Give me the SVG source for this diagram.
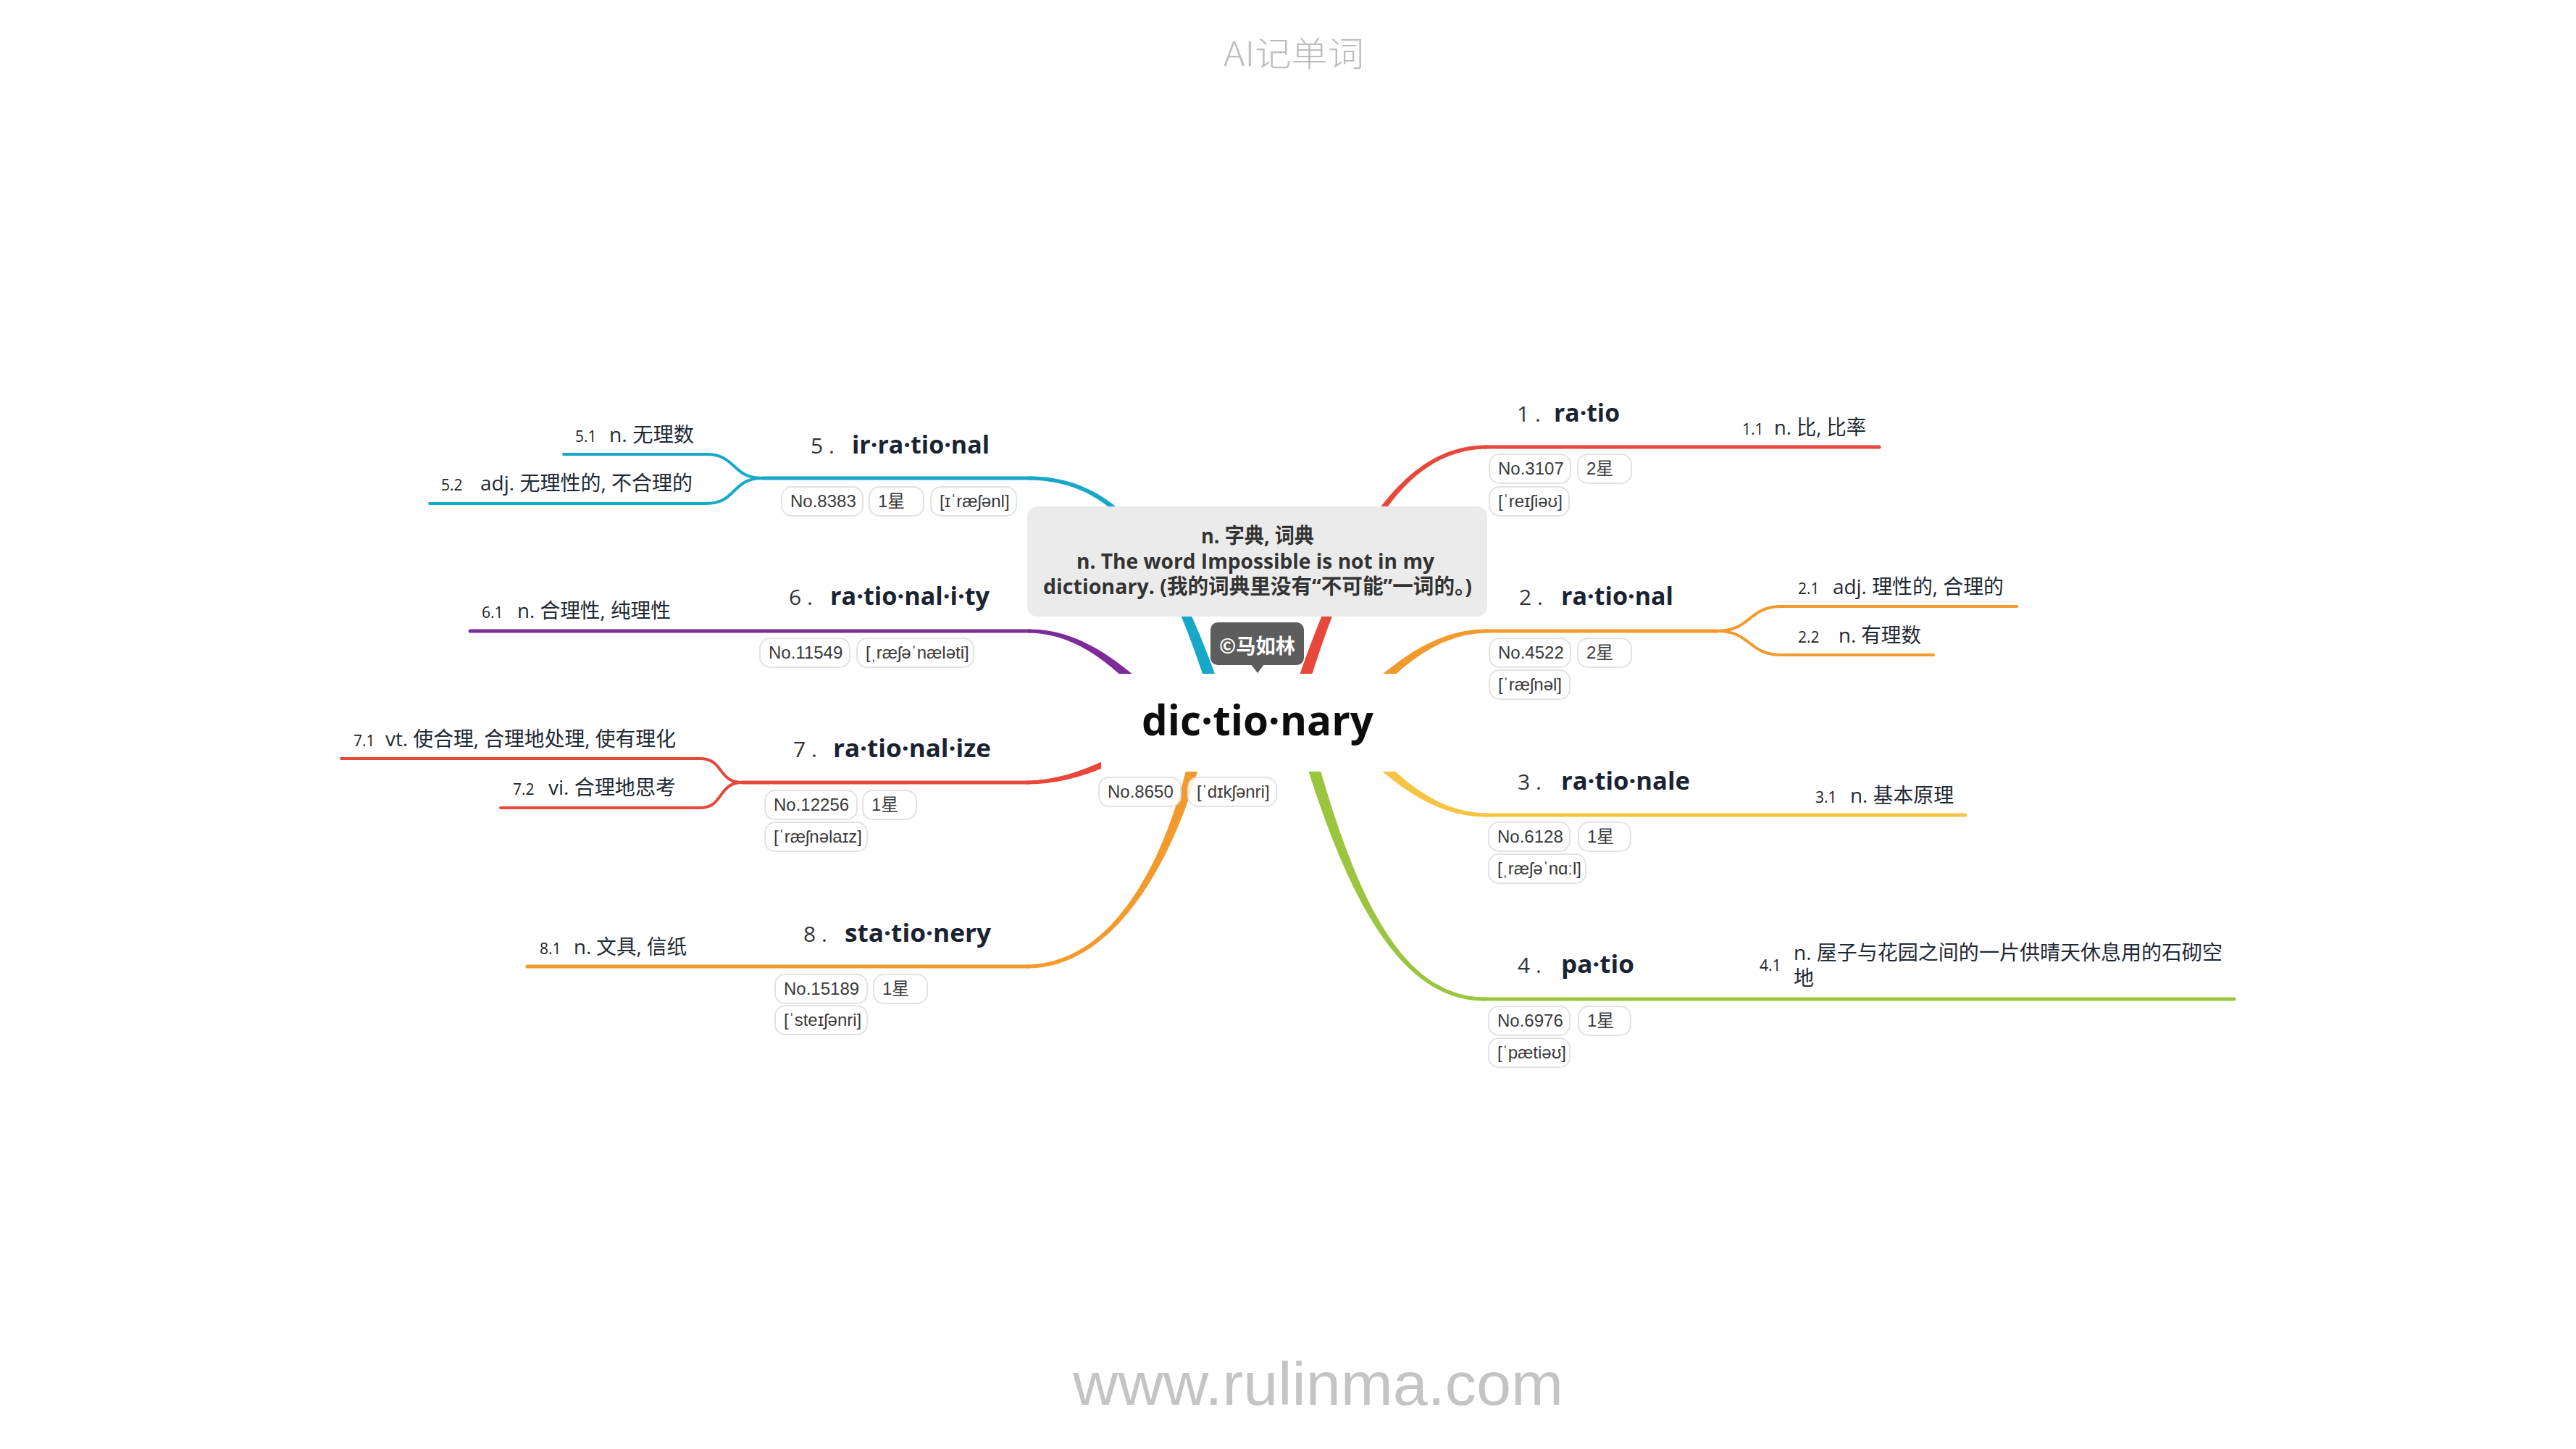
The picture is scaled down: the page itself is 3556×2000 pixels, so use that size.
<svg xmlns="http://www.w3.org/2000/svg" width="3556" height="2000" viewBox="0 0 3556 2000">
<style>
.t{font-family:"Open Sans","Noto Sans CJK SC",sans-serif;font-weight:700;font-size:34px;fill:#1a2332}
.n{font-family:"Open Sans",sans-serif;font-size:30px;fill:#333}
.s{font-family:"Open Sans","Noto Sans CJK SC",sans-serif;font-size:28px;fill:#1f2933}
.sn{font-family:"Open Sans",sans-serif;font-size:21px;fill:#222}
.pill{fill:#fff;fill-opacity:.85;stroke:#e2e2e2;stroke-width:2}
.pt{font-family:"Liberation Sans","Noto Sans CJK SC",sans-serif;font-size:24px;fill:#3a3a3a}
.line{fill:none;stroke-width:5;stroke-linecap:round}
.sub{fill:none;stroke-width:4;stroke-linecap:round}
.red{stroke:#e8473b}.redf{fill:#e8473b}
.org{stroke:#f39a2d}.orgf{fill:#f39a2d}
.yel{stroke:#f6c445}.yelf{fill:#f6c445}
.grn{stroke:#9cc53f}.grnf{fill:#9cc53f}
.cyn{stroke:#17a8c9}.cynf{fill:#17a8c9}
.pur{stroke:#7c2c99}.purf{fill:#7c2c99}
</style>
<rect width="3556" height="2000" fill="#fff"/>
<text x="1689" y="91" font-family="'Noto Sans CJK SC',sans-serif" font-weight="300" font-size="47" fill="#bdbdbd" textLength="194" lengthAdjust="spacingAndGlyphs">AI记单词</text>
<text x="1481" y="1939" font-family="'Liberation Sans',sans-serif" font-size="84" fill="#c4c4c4" textLength="677" lengthAdjust="spacingAndGlyphs">www.rulinma.com</text>

<g id="connectors">
  <!-- branch 1 -->
  <path class="redf" d="M1789.6,1002.6 C1861.7,751.7 1933,620.5 2053,619.5 L2053,614.5 C1933,613.5 1850.3,748.3 1772.4,997.4 Z"/>
  <path class="line red" d="M2050,617 H2594"/>
  <!-- branch 2 -->
  <path class="orgf" d="M1856.8,1005.9 C1924.5,923.9 1980,874.5 2053,873.5 L2053,868.5 C1980,867.5 1915.5,916.1 1843.2,994.1 Z"/>
  <path class="line org" d="M2050,871 H2370"/>
  <path class="sub org" d="M2370,871 C2418,871 2412,837 2460,837 H2784"/>
  <path class="sub org" d="M2370,871 C2418,871 2412,904 2460,904 H2669"/>
  <!-- branch 3 -->
  <path class="yelf" d="M1843.2,1001.9 C1915.5,1079.9 1980,1128.5 2053,1127.5 L2053,1122.5 C1980,1121.5 1924.5,1072.1 1856.8,990.1 Z"/>
  <path class="line yel" d="M2050,1125 H2713"/>
  <!-- branch 4 -->
  <path class="grnf" d="M1786.3,998.4 C1856.2,1241.6 1933,1382.5 2050,1381.5 L2050,1376.5 C1933,1375.5 1867.8,1238.4 1803.7,993.6 Z"/>
  <path class="line grn" d="M2047,1379 H3084"/>
  <!-- branch 5 -->
  <path class="cynf" d="M1699.6,997.4 C1621.7,748.3 1539,656.5 1419,657.5 L1419,662.5 C1539,663.5 1610.3,751.7 1682.4,1002.6 Z"/>
  <path class="line cyn" d="M1422,660 H1052"/>
  <path class="sub cyn" d="M1052,660 C1010,660 1017,627 975,627 H778"/>
  <path class="sub cyn" d="M1052,660 C1010,660 1017,695 975,695 H593"/>
  <!-- branch 6 -->
  <path class="purf" d="M1628.8,994.1 C1556.5,916.1 1492,867.5 1419,868.5 L1419,873.5 C1492,874.5 1547.5,923.9 1615.2,1005.9 Z"/>
  <path class="line pur" d="M1422,871 H649"/>
  <!-- branch 7 -->
  <path class="redf" d="M1615.6,993.3 C1556.9,1035.4 1490,1076.5 1417,1077.5 L1417,1082.5 C1490,1083.5 1563.1,1044.6 1624.4,1006.7 Z"/>
  <path class="line red" d="M1420,1080 H1025"/>
  <path class="sub red" d="M1025,1080 C990,1080 1000,1047 966,1047 H471"/>
  <path class="sub red" d="M1025,1080 C990,1080 1000,1115 966,1115 H691"/>
  <!-- branch 8 -->
  <path class="orgf" d="M1651.2,998.3 C1619.1,1178.9 1540,1330.5 1417,1331.5 L1417,1336.5 C1540,1337.5 1630.9,1181.1 1668.8,1001.7 Z"/>
  <path class="line org" d="M1420,1334 H728"/>
</g>

<g id="central">
  <rect x="1520" y="930" width="432" height="135" fill="#fff"/>
  <text x="1576" y="1015" font-family="'Open Sans',sans-serif" font-weight="700" font-size="57" fill="#0d0d0d" textLength="320" lengthAdjust="spacingAndGlyphs">dic·tio·nary</text>
  <rect class="pill" x="1517" y="1073" width="113" height="40" rx="14"/>
  <text class="pt" x="1529" y="1101">No.8650</text>
  <rect class="pill" x="1640" y="1073" width="122" height="40" rx="14"/>
  <text class="pt" x="1652" y="1101">[ˈdɪkʃənri]</text>
</g>

<g id="note">
  <rect x="1418" y="699" width="635" height="152" rx="14" fill="#ebebeb"/>
  <g font-family="'Open Sans','Noto Sans CJK SC',sans-serif" font-weight="700" font-size="29" fill="#333">
    <text x="1658" y="750" textLength="156" lengthAdjust="spacingAndGlyphs">n. 字典, 词典</text>
    <text x="1486" y="785" textLength="494" lengthAdjust="spacingAndGlyphs">n. The word Impossible is not in my</text>
    <text x="1440" y="820" textLength="592" lengthAdjust="spacingAndGlyphs">dictionary. (我的词典里没有“不可能”一词的。)</text>
  </g>
</g>

<g id="author">
  <rect x="1671" y="859" width="129" height="59" rx="10" fill="#5d5d5d"/>
  <path d="M1727,917 L1745,917 L1736,929 Z" fill="#5d5d5d"/>
  <text x="1683" y="902" font-family="'Noto Sans CJK SC',sans-serif" font-weight="700" font-size="28" fill="#fff" textLength="105" lengthAdjust="spacingAndGlyphs">©马如林</text>
</g>

<g id="b1">
  <text class="n" x="2094" y="582">1 .</text>
  <text class="t" x="2145" y="582" textLength="91" lengthAdjust="spacingAndGlyphs">ra·tio</text>
  <rect class="pill" x="2056" y="627" width="112" height="40" rx="14"/>
  <text class="pt" x="2068" y="655">No.3107</text>
  <rect class="pill" x="2178" y="627" width="74" height="40" rx="14"/>
  <text class="pt" x="2190" y="655">2星</text>
  <rect class="pill" x="2056" y="672" width="110" height="40" rx="14"/>
  <text class="pt" x="2068" y="700">[ˈreɪʃiəʊ]</text>
</g>
<g id="b1-1">
  <text class="sn" x="2405" y="600">1.1</text>
  <text class="s" x="2449" y="600" textLength="127" lengthAdjust="spacingAndGlyphs">n. 比, 比率</text>
</g>

<g id="b2">
  <text class="n" x="2097" y="835">2 .</text>
  <text class="t" x="2155" y="835" textLength="155" lengthAdjust="spacingAndGlyphs">ra·tio·nal</text>
  <rect class="pill" x="2056" y="881" width="112" height="40" rx="14"/>
  <text class="pt" x="2068" y="909">No.4522</text>
  <rect class="pill" x="2178" y="881" width="74" height="40" rx="14"/>
  <text class="pt" x="2190" y="909">2星</text>
  <rect class="pill" x="2056" y="925" width="111" height="40" rx="14"/>
  <text class="pt" x="2068" y="953">[ˈræʃnəl]</text>
</g>
<g id="b2-1">
  <text class="sn" x="2482" y="820">2.1</text>
  <text class="s" x="2530" y="820" textLength="236" lengthAdjust="spacingAndGlyphs">adj. 理性的, 合理的</text>
</g>
<g id="b2-2">
  <text class="sn" x="2482" y="887">2.2</text>
  <text class="s" x="2538" y="887" textLength="114" lengthAdjust="spacingAndGlyphs">n. 有理数</text>
</g>

<g id="b3">
  <text class="n" x="2095" y="1090">3 .</text>
  <text class="t" x="2155" y="1090" textLength="178" lengthAdjust="spacingAndGlyphs">ra·tio·nale</text>
  <rect class="pill" x="2055" y="1135" width="112" height="40" rx="14"/>
  <text class="pt" x="2067" y="1163">No.6128</text>
  <rect class="pill" x="2179" y="1135" width="72" height="40" rx="14"/>
  <text class="pt" x="2191" y="1163">1星</text>
  <rect class="pill" x="2055" y="1179" width="134" height="40" rx="14"/>
  <text class="pt" x="2067" y="1207">[ˌræʃəˈnɑːl]</text>
</g>
<g id="b3-1">
  <text class="sn" x="2506" y="1108">3.1</text>
  <text class="s" x="2554" y="1108" textLength="143" lengthAdjust="spacingAndGlyphs">n. 基本原理</text>
</g>

<g id="b4">
  <text class="n" x="2095" y="1343">4 .</text>
  <text class="t" x="2155" y="1343" textLength="101" lengthAdjust="spacingAndGlyphs">pa·tio</text>
  <rect class="pill" x="2055" y="1389" width="112" height="40" rx="14"/>
  <text class="pt" x="2067" y="1417">No.6976</text>
  <rect class="pill" x="2179" y="1389" width="72" height="40" rx="14"/>
  <text class="pt" x="2191" y="1417">1星</text>
  <rect class="pill" x="2055" y="1433" width="112" height="40" rx="14"/>
  <text class="pt" x="2067" y="1461">[ˈpætiəʊ]</text>
</g>
<g id="b4-1">
  <text class="sn" x="2429" y="1340">4.1</text>
  <text class="s" x="2476" y="1325" textLength="592" lengthAdjust="spacingAndGlyphs">n. 屋子与花园之间的一片供晴天休息用的石砌空</text>
  <text class="s" x="2476" y="1360">地</text>
</g>

<g id="b5">
  <text class="n" x="1119" y="626">5 .</text>
  <text class="t" x="1176" y="626" textLength="190" lengthAdjust="spacingAndGlyphs">ir·ra·tio·nal</text>
  <rect class="pill" x="1079" y="672" width="112" height="40" rx="14"/>
  <text class="pt" x="1091" y="700">No.8383</text>
  <rect class="pill" x="1200" y="672" width="75" height="40" rx="14"/>
  <text class="pt" x="1212" y="700">1星</text>
  <rect class="pill" x="1285" y="672" width="118" height="40" rx="14"/>
  <text class="pt" x="1297" y="700">[ɪˈræʃənl]</text>
</g>
<g id="b5-1">
  <text class="sn" x="794" y="610">5.1</text>
  <text class="s" x="841" y="610" textLength="117" lengthAdjust="spacingAndGlyphs">n. 无理数</text>
</g>
<g id="b5-2">
  <text class="sn" x="609" y="677">5.2</text>
  <text class="s" x="663" y="677" textLength="293" lengthAdjust="spacingAndGlyphs">adj. 无理性的, 不合理的</text>
</g>

<g id="b6">
  <text class="n" x="1089" y="835">6 .</text>
  <text class="t" x="1146" y="835" textLength="220" lengthAdjust="spacingAndGlyphs">ra·tio·nal·i·ty</text>
  <rect class="pill" x="1049" y="881" width="124" height="40" rx="14"/>
  <text class="pt" x="1061" y="909">No.11549</text>
  <rect class="pill" x="1183" y="881" width="161" height="40" rx="14"/>
  <text class="pt" x="1195" y="909">[ˌræʃəˈnæləti]</text>
</g>
<g id="b6-1">
  <text class="sn" x="665" y="853">6.1</text>
  <text class="s" x="714" y="853" textLength="212" lengthAdjust="spacingAndGlyphs">n. 合理性, 纯理性</text>
</g>

<g id="b7">
  <text class="n" x="1095" y="1045">7 .</text>
  <text class="t" x="1150" y="1045" textLength="218" lengthAdjust="spacingAndGlyphs">ra·tio·nal·ize</text>
  <rect class="pill" x="1056" y="1091" width="127" height="40" rx="14"/>
  <text class="pt" x="1068" y="1119">No.12256</text>
  <rect class="pill" x="1191" y="1091" width="74" height="40" rx="14"/>
  <text class="pt" x="1203" y="1119">1星</text>
  <rect class="pill" x="1056" y="1135" width="141" height="40" rx="14"/>
  <text class="pt" x="1068" y="1163">[ˈræʃnəlaɪz]</text>
</g>
<g id="b7-1">
  <text class="sn" x="488" y="1030">7.1</text>
  <text class="s" x="532" y="1030" textLength="401" lengthAdjust="spacingAndGlyphs">vt. 使合理, 合理地处理, 使有理化</text>
</g>
<g id="b7-2">
  <text class="sn" x="708" y="1097">7.2</text>
  <text class="s" x="757" y="1097" textLength="176" lengthAdjust="spacingAndGlyphs">vi. 合理地思考</text>
</g>

<g id="b8">
  <text class="n" x="1109" y="1300">8 .</text>
  <text class="t" x="1166" y="1300" textLength="202" lengthAdjust="spacingAndGlyphs">sta·tio·nery</text>
  <rect class="pill" x="1070" y="1345" width="127" height="40" rx="14"/>
  <text class="pt" x="1082" y="1373">No.15189</text>
  <rect class="pill" x="1206" y="1345" width="74" height="40" rx="14"/>
  <text class="pt" x="1218" y="1373">1星</text>
  <rect class="pill" x="1070" y="1388" width="127" height="40" rx="14"/>
  <text class="pt" x="1082" y="1416">[ˈsteɪʃənri]</text>
</g>
<g id="b8-1">
  <text class="sn" x="745" y="1317">8.1</text>
  <text class="s" x="792" y="1317" textLength="156" lengthAdjust="spacingAndGlyphs">n. 文具, 信纸</text>
</g>
</svg>
